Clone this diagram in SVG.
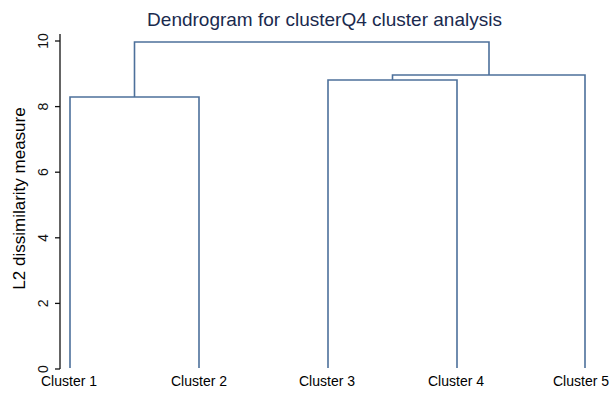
<svg xmlns="http://www.w3.org/2000/svg" width="611" height="393" viewBox="0 0 611 393">
<style>
.bg{fill:#ffffff}
.title{font-family:"Liberation Sans",Arial,sans-serif;font-size:19px;fill:#1a2a4e;text-anchor:middle}
.ytitle{font-family:"Liberation Sans",Arial,sans-serif;font-size:17px;fill:#000;text-anchor:middle}
.tick{font-family:"Liberation Sans",Arial,sans-serif;font-size:14px;fill:#111;text-anchor:middle}
.leaf{font-family:"Liberation Sans",Arial,sans-serif;font-size:14px;fill:#000;text-anchor:middle}
.axis{stroke:#111;stroke-width:1.3;fill:none}
.link{stroke:#4d709b;stroke-width:1.6;fill:none}
</style>
<rect class="bg" x="0" y="0" width="611" height="393"/>
<g id="title"><text class="title" x="324.5" y="26">Dendrogram for clusterQ4 cluster analysis</text></g>
<g id="y-axis">
<line class="axis" x1="60" y1="34" x2="60" y2="369"/>
<line class="axis" x1="55" y1="41" x2="60" y2="41"/>
<line class="axis" x1="55" y1="106.6" x2="60" y2="106.6"/>
<line class="axis" x1="55" y1="172.2" x2="60" y2="172.2"/>
<line class="axis" x1="55" y1="237.8" x2="60" y2="237.8"/>
<line class="axis" x1="55" y1="303.4" x2="60" y2="303.4"/>
<line class="axis" x1="55" y1="369" x2="60" y2="369"/>
<text class="tick" transform="translate(48,41) rotate(-90)">10</text>
<text class="tick" transform="translate(48,106.6) rotate(-90)">8</text>
<text class="tick" transform="translate(48,172.2) rotate(-90)">6</text>
<text class="tick" transform="translate(48,237.8) rotate(-90)">4</text>
<text class="tick" transform="translate(48,303.4) rotate(-90)">2</text>
<text class="tick" transform="translate(48,369) rotate(-90)">0</text>
<text class="ytitle" transform="translate(25,198.5) rotate(-90)">L2 dissimilarity measure</text>
</g>
<g id="connectors">
<path class="link" d="M70,368 V97 H199 V368"/>
<path class="link" d="M328,368 V80 H457 V368"/>
<path class="link" d="M392.5,80 V75 H585 V368"/>
<path class="link" d="M134.5,97 V42 H489 V75"/>
</g>
<g id="cluster1"><text class="leaf" x="69" y="386">Cluster 1</text></g>
<g id="cluster2"><text class="leaf" x="199" y="386">Cluster 2</text></g>
<g id="cluster3"><text class="leaf" x="327" y="386">Cluster 3</text></g>
<g id="cluster4"><text class="leaf" x="456" y="386">Cluster 4</text></g>
<g id="cluster5"><text class="leaf" x="581" y="386">Cluster 5</text></g>
</svg>
